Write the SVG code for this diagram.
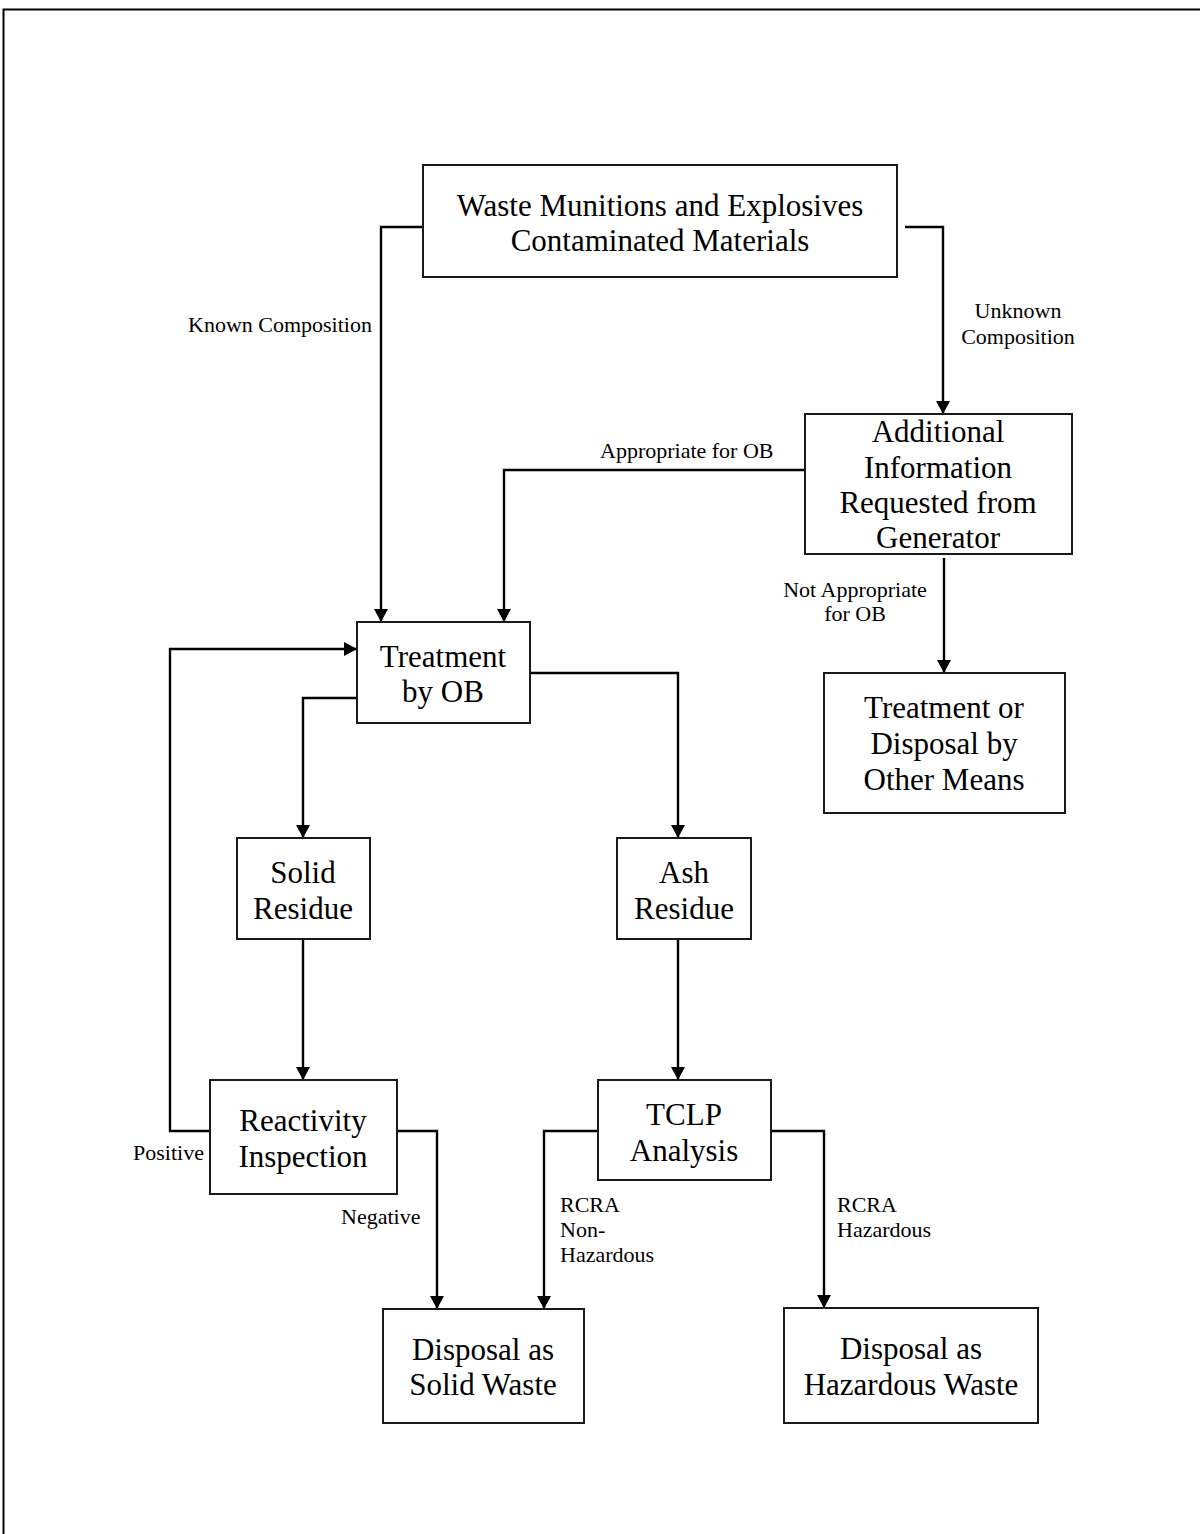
<svg xmlns="http://www.w3.org/2000/svg" width="1200" height="1534" viewBox="0 0 1200 1534">
<style>
  .box { fill: #ffffff; stroke: #1a1a1a; stroke-width: 2; }
  .node { font-family: "Liberation Serif", "Times New Roman", serif; font-size: 31px; fill: #000; text-anchor: middle; }
  .lbl { font-family: "Liberation Serif", "Times New Roman", serif; font-size: 22px; fill: #000; }
  .mid { text-anchor: middle; }
  .conn { fill: none; stroke: #000; stroke-width: 2.4; }
  .arr { marker-end: url(#ah); }
  .frame { fill: none; stroke: #000; stroke-width: 2; }
</style>
<defs>
  <marker id="ah" markerUnits="userSpaceOnUse" markerWidth="16" markerHeight="16" refX="13" refY="7" orient="auto">
    <path d="M0,0 L13,7 L0,14 z" fill="#000"/>
  </marker>
</defs>
<rect width="1200" height="1534" fill="#ffffff"/>
<path class="frame" d="M3.5,1534 V9.5 H1200"/>

<g id="connectors">
  <path class="conn arr" d="M423,227 H381 V622"/>
  <path class="conn arr" d="M905,227 H943 V414"/>
  <path class="conn arr" d="M810,470 H504 V622"/>
  <path class="conn arr" d="M944,558 V673"/>
  <path class="conn arr" d="M210,1131 H170 V649 H357"/>
  <path class="conn arr" d="M357,698 H303 V838"/>
  <path class="conn arr" d="M530,673 H678 V838"/>
  <path class="conn arr" d="M303,939 V1080"/>
  <path class="conn arr" d="M678,939 V1080"/>
  <path class="conn arr" d="M397,1131 H437 V1309"/>
  <path class="conn arr" d="M598,1131 H544 V1309"/>
  <path class="conn arr" d="M771,1131 H824 V1308"/>
</g>

<g id="labels">
  <text class="lbl" x="188" y="332">Known Composition</text>
  <text class="lbl mid" x="1018" y="318">Unknown</text>
  <text class="lbl mid" x="1018" y="344">Composition</text>
  <text class="lbl" x="600" y="458">Appropriate for OB</text>
  <text class="lbl mid" x="855" y="597">Not Appropriate</text>
  <text class="lbl mid" x="855" y="621">for OB</text>
  <text class="lbl" x="133" y="1160">Positive</text>
  <text class="lbl" x="341" y="1224">Negative</text>
  <text class="lbl" x="560" y="1212">RCRA</text>
  <text class="lbl" x="560" y="1237">Non-</text>
  <text class="lbl" x="560" y="1262">Hazardous</text>
  <text class="lbl" x="837" y="1212">RCRA</text>
  <text class="lbl" x="837" y="1237">Hazardous</text>
</g>

<g id="n-waste">
  <rect class="box" x="423" y="165" width="474" height="112"/>
  <text class="node" x="660" y="216">Waste Munitions and Explosives</text>
  <text class="node" x="660" y="251">Contaminated Materials</text>
</g>
<g id="n-additional">
  <rect class="box" x="805" y="414" width="267" height="140"/>
  <text class="node" x="938" y="442">Additional</text>
  <text class="node" x="938" y="478">Information</text>
  <text class="node" x="938" y="513">Requested from</text>
  <text class="node" x="938" y="548">Generator</text>
</g>
<g id="n-other">
  <rect class="box" x="824" y="673" width="241" height="140"/>
  <text class="node" x="944" y="718">Treatment or</text>
  <text class="node" x="944" y="754">Disposal by</text>
  <text class="node" x="944" y="790">Other Means</text>
</g>
<g id="n-treatment">
  <rect class="box" x="357" y="622" width="173" height="101"/>
  <text class="node" x="443" y="667">Treatment</text>
  <text class="node" x="443" y="702">by OB</text>
</g>
<g id="n-solid">
  <rect class="box" x="237" y="838" width="133" height="101"/>
  <text class="node" x="303" y="883">Solid</text>
  <text class="node" x="303" y="919">Residue</text>
</g>
<g id="n-ash">
  <rect class="box" x="617" y="838" width="134" height="101"/>
  <text class="node" x="684" y="883">Ash</text>
  <text class="node" x="684" y="919">Residue</text>
</g>
<g id="n-reactivity">
  <rect class="box" x="210" y="1080" width="187" height="114"/>
  <text class="node" x="303" y="1131">Reactivity</text>
  <text class="node" x="303" y="1167">Inspection</text>
</g>
<g id="n-tclp">
  <rect class="box" x="598" y="1080" width="173" height="100"/>
  <text class="node" x="684" y="1125">TCLP</text>
  <text class="node" x="684" y="1161">Analysis</text>
</g>
<g id="n-disp-solid">
  <rect class="box" x="383" y="1309" width="201" height="114"/>
  <text class="node" x="483" y="1360">Disposal as</text>
  <text class="node" x="483" y="1395">Solid Waste</text>
</g>
<g id="n-disp-haz">
  <rect class="box" x="784" y="1308" width="254" height="115"/>
  <text class="node" x="911" y="1359">Disposal as</text>
  <text class="node" x="911" y="1395">Hazardous Waste</text>
</g>
</svg>
